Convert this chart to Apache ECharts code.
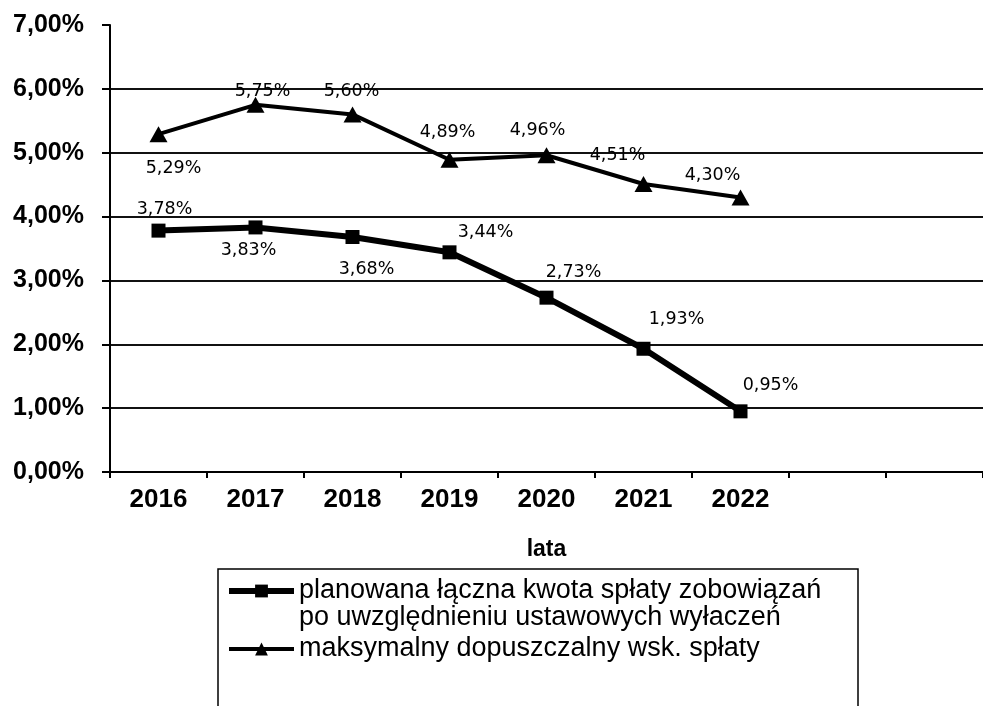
<!DOCTYPE html>
<html>
<head>
<meta charset="utf-8">
<script src="https://cdn.jsdelivr.net/npm/echarts@6/dist/echarts.min.js"></script>
<style>
html,body{margin:0;padding:0;background:#fff;}
#chart{width:983px;height:706px;}
</style>
</head>
<body>
<div id="chart"></div>
<script>
// ---- data ----
const categories = ['2016','2017','2018','2019','2020','2021','2022','',''];
const seriesPlannedName = 'planowana łączna kwota spłaty zobowiązań\npo uwzględnieniu ustawowych wyłaczeń';
const seriesMaxName = 'maksymalny dopuszczalny wsk. spłaty';
const plannedValues = [3.78, 3.83, 3.68, 3.44, 2.73, 1.93, 0.95];
const maxValues = [5.29, 5.75, 5.60, 4.89, 4.96, 4.51, 4.30];
const yTicks = [0, 1, 2, 3, 4, 5, 6, 7];
const xAxisTitle = 'lata';

// ---- layout (label placement, not data) ----
const plannedLabelOffsets = [[6,-21],[-7,23],[14,32],[36,-20],[27,-25],[33,-29],[30,-26]];
const maxLabelOffsets = [[15,34],[7,-13],[-1,-23],[-2,-27],[-9,-25],[-26,-29],[-28,-22]];

const fmt = v => v.toFixed(2).replace('.', ',') + '%';

function buildData(values, offsets) {
  return values.map((v, i) => ({
    value: v,
    label: { offset: offsets[i] }
  }));
}

const labelStyle = {
  show: true,
  position: 'inside',
  formatter: p => fmt(p.value),
  fontFamily: 'DejaVu Sans',
  fontSize: 17.5,
  color: '#000'
};

const chart = echarts.init(document.getElementById('chart'), null, {renderer: 'canvas'});
const LH = 27;
const legendLine1Y = 591;
chart.setOption({
  animation: false,
  backgroundColor: '#ffffff',
  grid: { left: 110, top: 25, width: 886, height: 447 },
  xAxis: {
    type: 'category',
    data: categories,
    boundaryGap: true,
    name: xAxisTitle,
    nameLocation: 'middle',
    nameGap: 66,
    nameTextStyle: { fontFamily: 'Liberation Sans', fontWeight: 'bold', fontSize: 23, color: '#000' },
    axisLine: { lineStyle: { color: '#000', width: 2 } },
    axisTick: { show: true, length: 6, lineStyle: { color: '#000', width: 2 } },
    axisLabel: { margin: 15, fontFamily: 'Liberation Sans', fontWeight: 'bold', fontSize: 26, color: '#000' },
    splitLine: { show: false }
  },
  yAxis: {
    type: 'value',
    min: yTicks[0],
    max: yTicks[yTicks.length - 1],
    interval: 1,
    axisLine: { show: true, lineStyle: { color: '#000', width: 2 } },
    axisTick: { show: true, length: 8, lineStyle: { color: '#000', width: 2 } },
    axisLabel: { margin: 26, formatter: v => fmt(v), fontFamily: 'Liberation Sans', fontWeight: 'bold', fontSize: 25, color: '#000' },
    splitLine: { show: true, showMaxLine: false, lineStyle: { color: '#111', width: 2 } }
  },
  legend: {
    orient: 'vertical',
    left: 226,
    top: legendLine1Y - 1.5 * LH,
    padding: 0,
    itemGap: 4,
    itemWidth: 65,
    itemHeight: 16,
    lineStyle: { width: 'inherit' },
    textStyle: { fontFamily: 'Liberation Sans', fontSize: 27, lineHeight: LH, color: '#000', rich: { r: {} } },
    data: [
      { name: seriesPlannedName, textStyle: { padding: [LH, 0, 0, 0] } },
      { name: seriesMaxName }
    ]
  },
  graphic: [{
    type: 'rect',
    silent: true,
    shape: { x: 218, y: 569, width: 640, height: 200 },
    style: { fill: 'none', stroke: '#000', lineWidth: 1.5 }
  }],
  series: [
    {
      name: seriesPlannedName,
      type: 'line',
      data: buildData(plannedValues, plannedLabelOffsets),
      symbol: 'rect',
      symbolSize: 14,
      lineStyle: { color: '#000', width: 6 },
      itemStyle: { color: '#000' },
      label: labelStyle,
      z: 3
    },
    {
      name: seriesMaxName,
      type: 'line',
      data: buildData(maxValues, maxLabelOffsets),
      symbol: 'triangle',
      symbolSize: [18, 16],
      lineStyle: { color: '#000', width: 4 },
      itemStyle: { color: '#000' },
      label: labelStyle,
      z: 3
    }
  ]
});
</script>
</body>
</html>
